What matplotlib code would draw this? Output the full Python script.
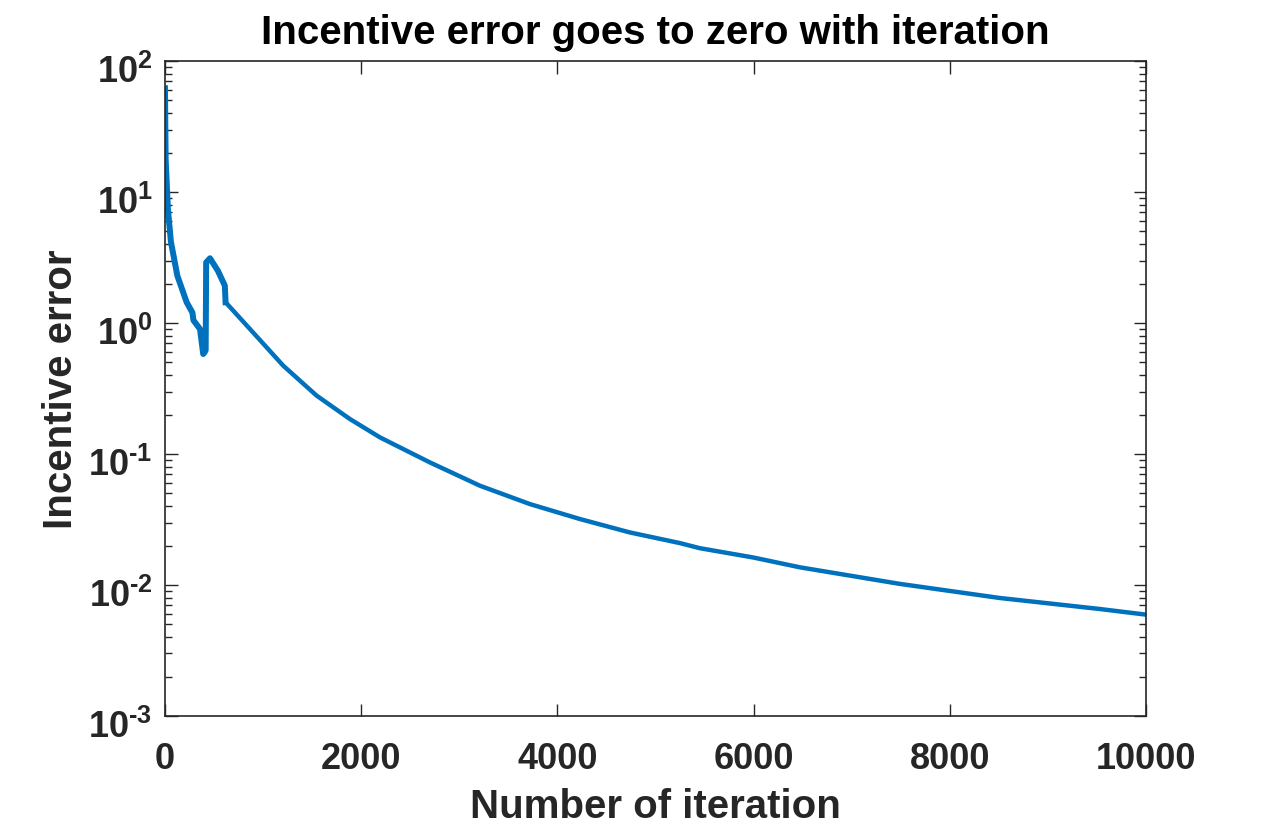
import matplotlib
matplotlib.use("Agg")
import matplotlib.pyplot as plt
from matplotlib.ticker import LogLocator, NullFormatter
from matplotlib.transforms import ScaledTranslation

plt.rcParams['font.family'] = ['Liberation Sans', 'DejaVu Sans']
plt.rcParams['font.weight'] = 'bold'
plt.rcParams['mathtext.fontset'] = 'custom'
plt.rcParams['mathtext.rm'] = 'Liberation Sans:bold'
plt.rcParams['mathtext.it'] = 'Liberation Sans:bold'
plt.rcParams['mathtext.bf'] = 'Liberation Sans:bold'

# valori (tratto iniziale, con il salto)
iter_early = [0, 7, 30, 61, 126, 221, 280, 290, 357, 390, 405, 415, 420, 459, 540, 610, 618]
err_early = [62, 17.9, 7.4, 4.15, 2.3, 1.44, 1.2, 1.05, 0.9, 0.58, 0.6, 0.62, 2.9, 3.12,
             2.5, 1.93, 1.44]

# tratto successivo, discesa regolare
iter_late = [618, 866, 1206, 1546, 1885, 2191, 2700, 3210, 3719, 4229, 4738, 5248, 5452,
             6000, 6471, 7490, 8509, 9528, 10000]
err_late = [1.44, 0.9, 0.472, 0.279, 0.185, 0.134, 0.0863, 0.0573, 0.0415, 0.0319, 0.0252,
            0.0209, 0.0191, 0.0162, 0.01365, 0.0102, 0.00796, 0.00656, 0.00594]

x_ticks = [0, 2000, 4000, 6000, 8000, 10000]
y_ticks = [1e-3, 1e-2, 1e-1, 1e0, 1e1, 1e2]
y_labels = ['$10^{\\text{-}3}$', '$10^{\\text{-}2}$', '$10^{\\text{-}1}$',
            '$10^{0}$', '$10^{1}$', '$10^{2}$']

txt = '#262626'
blue = '#0072BD'

fig = plt.figure(figsize=(12.66, 8.29), dpi=100)
ax = fig.add_axes([0.1303, 0.1351, 0.7749, 0.7901])

ax.semilogy(iter_early, err_early, color=blue, linewidth=4.3)
ax.semilogy(iter_late, err_late, color=blue, linewidth=3.2)

ax.set_xlim(0, 10000)
ax.set_ylim(1e-3, 1e2)
ax.set_xticks(x_ticks)
ax.set_xticklabels([str(t) for t in x_ticks])
ax.set_yticks(y_ticks)
ax.set_yticklabels(y_labels)
ax.yaxis.set_minor_locator(LogLocator(base=10, subs=range(2, 10), numticks=20))
ax.yaxis.set_minor_formatter(NullFormatter())

ax.tick_params(which='both', direction='in', top=True, right=True, colors=txt,
               labelsize=26, width=1)
ax.tick_params(which='major', length=9)
ax.tick_params(which='minor', length=5)
ax.tick_params(axis='x', pad=18)
ax.tick_params(axis='y', pad=9)
for s in ax.spines.values():
    s.set_color(txt)
    s.set_linewidth(1.2)

# in MATLAB il "10" sta un po' sotto la tacca
shift = ScaledTranslation(0, -5 / 72, fig.dpi_scale_trans)
for lab in ax.get_yticklabels():
    lab.set_transform(lab.get_transform() + shift)

ax.set_title('Incentive error goes to zero with iteration', fontsize=29,
             fontweight='bold', color='black', pad=13)
ax.set_xlabel('Number of iteration', fontsize=29, fontweight='bold', color=txt, labelpad=8)
ax.set_ylabel('Incentive error', fontsize=29, fontweight='bold', color=txt, labelpad=6)

fig.savefig('out.png', dpi=100)
